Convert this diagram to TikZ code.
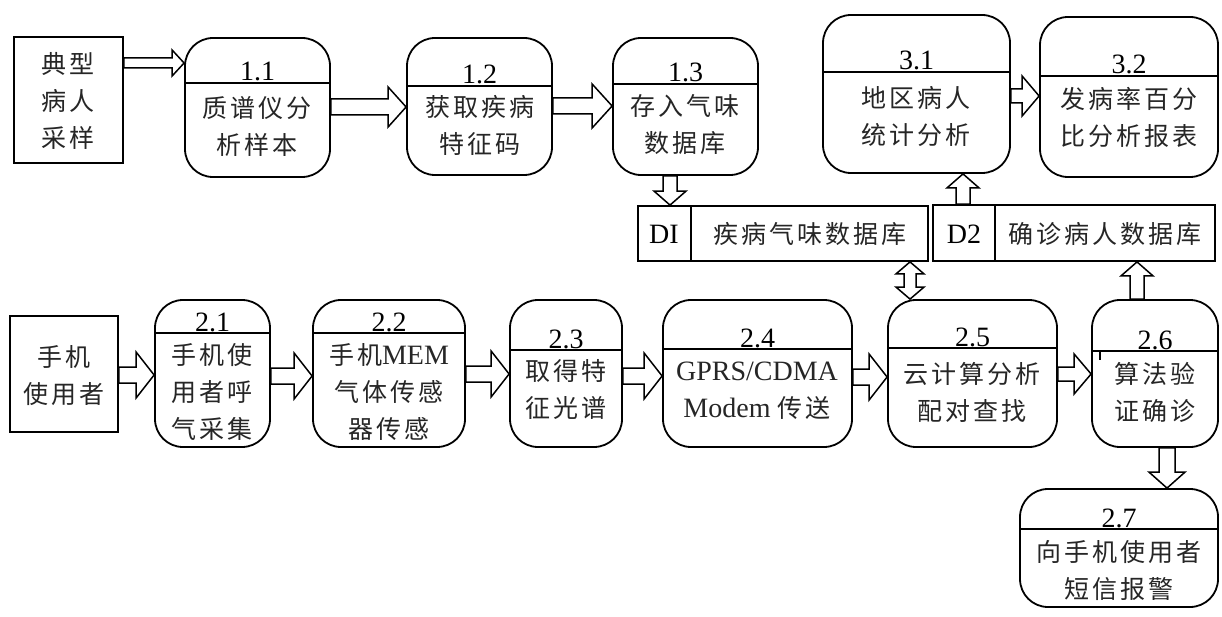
\documentclass[tikz,border=0pt]{standalone}
\usepackage{fontspec}
\setmainfont{Liberation Serif}
\newfontfamily\cjk[LetterSpace=12]{Noto Sans CJK SC}
\usetikzlibrary{calc,fit}
\tikzset{
 box/.style={draw, line width=1.8pt, rounded corners=28pt, inner sep=0pt},
 ext/.style={draw, line width=1.8pt, inner sep=0pt},
 sep/.style={line width=1.8pt},
 txt/.style={font=\fontsize{25}{37}\cjk, align=center, inner sep=0pt, text=black!85},
 num/.style={font=\fontsize{28}{30}\selectfont, inner sep=0pt, anchor=base},
 lat/.style={font=\fontsize{28}{37}\selectfont, align=center, inner sep=0pt},
 hol/.style={draw, line width=1.5pt, fill=white, line join=miter},
}
\newcommand\hollowR[6]{\draw[hol] let \p1=(#1), \p2=(#2), \p3=(0,#3) in
 (\x1,\y3+#4pt) -- (\x2-#6pt,\y3+#4pt) -- (\x2-#6pt,\y3+#5pt) -- (\x2,\y3) -- (\x2-#6pt,\y3-#5pt) -- (\x2-#6pt,\y3-#4pt) -- (\x1,\y3-#4pt) -- cycle;}
\newcommand\hollowV[6]{\draw[hol] let \p1=(#1), \p2=(#2), \p3=(#3,0) in
 (\x3-#4pt,\y1) -- (\x3-#4pt,{\y2+(#6)*1pt}) -- (\x3-#5pt,{\y2+(#6)*1pt}) -- (\x3,\y2) -- (\x3+#5pt,{\y2+(#6)*1pt}) -- (\x3+#4pt,{\y2+(#6)*1pt}) -- (\x3+#4pt,\y1) -- cycle;}
\newcommand\hollowUD[6]{\draw[hol] let \p1=(#1), \p2=(#2), \p3=(#3,0) in
 (\x3,\y1) -- (\x3+#5pt,\y1-#6pt) -- (\x3+#4pt,\y1-#6pt) -- (\x3+#4pt,\y2+#6pt) -- (\x3+#5pt,\y2+#6pt) -- (\x3,\y2) -- (\x3-#5pt,\y2+#6pt) -- (\x3-#4pt,\y2+#6pt) -- (\x3-#4pt,\y1-#6pt) -- (\x3-#5pt,\y1-#6pt) -- cycle;}
\newcommand\procbox[7]{%
 \node[box, fit={(#2,#3) (#4,#5)}] (#1) {};
 \draw[sep] (#2,#6) -- (#4,#6);
 \node[num] (#1n) at ({(#2+#4)/2},{#6-2}) {#7};}
\begin{document}
\begin{tikzpicture}[x=1pt,y=-1pt]
\useasboundingbox (0,0) rectangle (1222,617);
\fill[white] (0,0) rectangle (1222,617);

% row 1
\node[ext, fit={(14,37) (123,163)}] (s1) {};
\node[txt] (s1t) at (68,101) {典型\\病人\\采样};
\procbox{p11}{185}{38}{330}{177}{83}{1.1}
\node[txt] (p11t) at (257,126) {质谱仪分\\析样本};
\procbox{p12}{407}{38}{552}{175}{86}{1.2}
\node[txt] (p12t) at (480,125) {获取疾病\\特征码};
\procbox{p13}{613}{38}{758}{175}{84}{1.3}
\node[txt] (p13t) at (685,125) {存入气味\\数据库};
\procbox{p31}{823}{15}{1010}{173}{72}{3.1}
\node[txt] (p31t) at (916,117) {地区病人\\统计分析};
\procbox{p32}{1040}{17}{1218}{177}{76}{3.2}
\node[txt] (p32t) at (1129,117) {发病率百分\\比分析报表};

% data stores
\node[ext, fit={(638,206) (928,261)}] (d1) {};
\draw[sep] (691,206) -- (691,261);
\node[lat] (d1a) at (664,234) {DI};
\node[txt] (d1b) at (810,234) {疾病气味数据库};
\node[ext, fit={(933,205) (1215,261)}] (d2) {};
\draw[sep] (995,205) -- (995,261);
\node[lat] (d2a) at (964,234) {D2};
\node[txt] (d2b) at (1105,234) {确诊病人数据库};

% row 2
\node[ext, fit={(10,316) (118,432)}] (u0) {};
\node[txt] (u0t) at (64,376) {手机\\使用者};
\procbox{p21}{155}{300}{270}{447}{333}{2.1}
\node[txt] (p21t) at (212,392) {手机使\\用者呼\\气采集};
\procbox{p22}{313}{300}{465}{447}{333}{2.2}
\node[txt] (p22t) at (389,392) {手机{\fontsize{28}{37}\rmfamily MEM}\\气体传感\\器传感};
\procbox{p23}{510}{300}{622}{447}{350}{2.3}
\node[txt] (p23t) at (566,389) {取得特\\征光谱};
\procbox{p24}{663}{300}{852}{447}{349}{2.4}
\node[txt] (p24t) at (757,391) {{\fontsize{28}{37}\rmfamily GPRS/CDMA}\\{\fontsize{28}{37}\rmfamily Modem }传送};
\procbox{p25}{888}{300}{1057}{447}{348}{2.5}
\node[txt] (p25t) at (972,392) {云计算分析\\配对查找};
\procbox{p26}{1092}{300}{1218}{447}{351}{2.6}
\draw[sep] (1100,351) -- (1100,360);
\node[txt] (p26t) at (1155,392) {算法验\\证确诊};
\procbox{p27}{1020}{489}{1218}{607}{529}{2.7}
\node[txt] (p27t) at (1119,571) {向手机使用者\\短信报警};

% arrows
\hollowR{s1.east}{p11.west}{63}{5}{13}{12}
\hollowR{p11.east}{p12.west}{107}{8}{20}{18}
\hollowR{p12.east}{p13.west}{106}{8}{22}{20}
\hollowV{p13.south}{d1.north}{670}{7}{16}{14}
\hollowV{d2.north}{p31.south}{963}{7}{16}{-14}
\hollowR{p31.east}{p32.west}{96}{7}{20}{17}
\hollowR{u0.east}{p21.west}{375}{8}{23}{18}
\hollowR{p21.east}{p22.west}{376}{8}{23}{18}
\hollowR{p22.east}{p23.west}{374}{8}{23}{18}
\hollowR{p23.east}{p24.west}{376}{8}{23}{18}
\hollowR{p24.east}{p25.west}{377}{8}{23}{18}
\hollowR{p25.east}{p26.west}{374}{7}{20}{17}
\hollowUD{d1.south}{p25.north}{910}{6}{14}{12}
\hollowV{p26.north}{d2.south}{1137}{7}{16}{-14}
\hollowV{p26.south}{p27.north}{1167}{8}{18}{16}
\end{tikzpicture}
\end{document}
